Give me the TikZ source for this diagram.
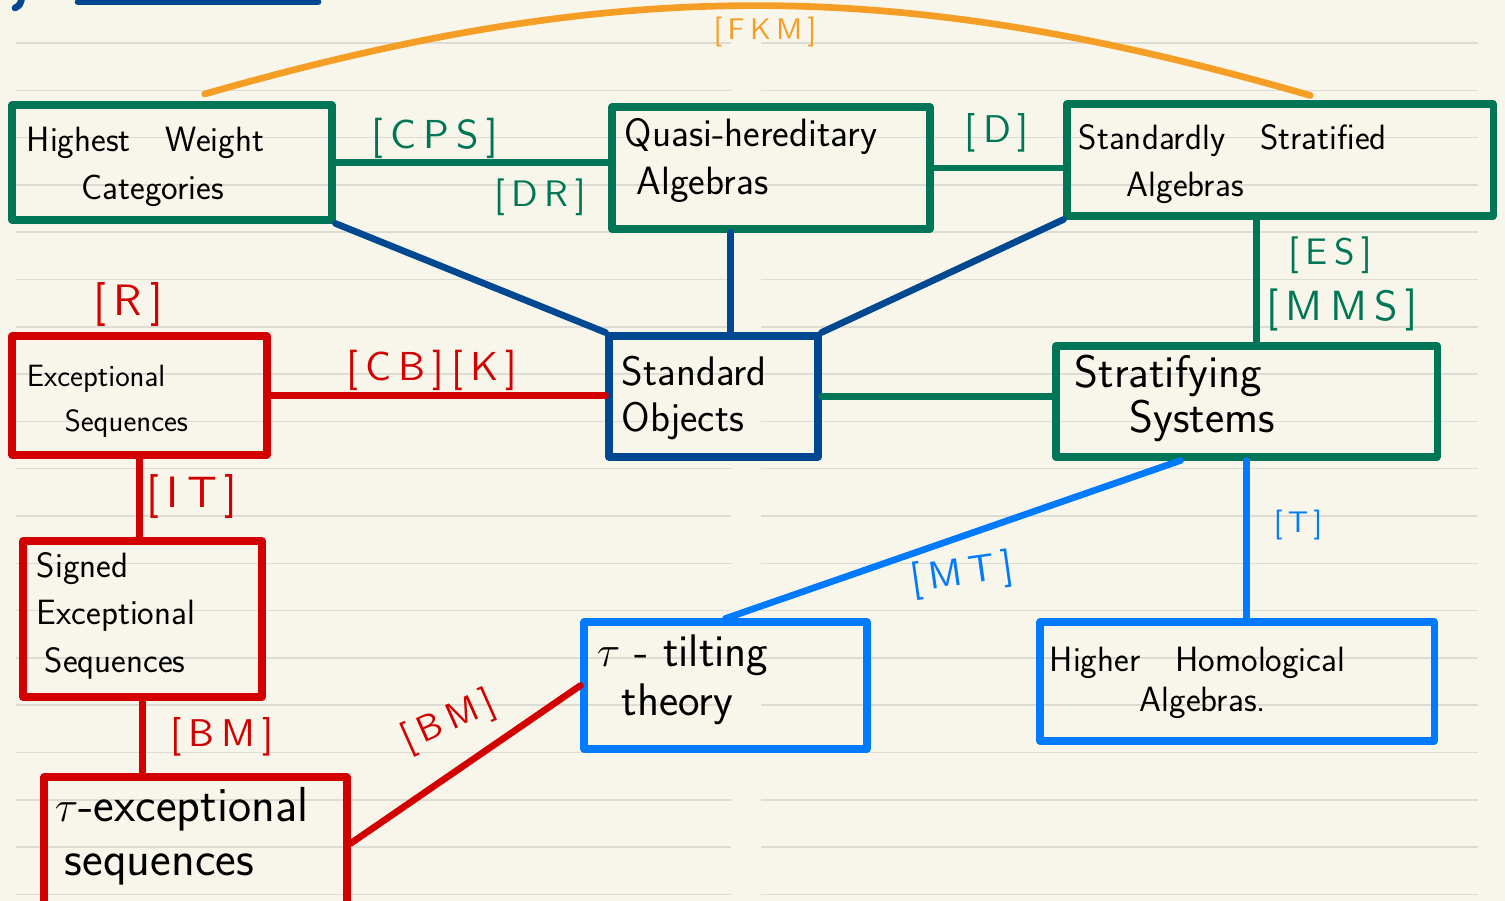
\documentclass[tikz,border=0pt]{standalone}
\usepackage{fontspec}
\usepackage{tikz}
\usetikzlibrary{calc, positioning}
\definecolor{PaperBg}{HTML}{F8F6EA}
\definecolor{RuleGray}{HTML}{DCDCD5}
\definecolor{HWGreen}{HTML}{007656}
\definecolor{ESRed}{HTML}{D20000}
\definecolor{SODarkBlue}{HTML}{004891}
\definecolor{TTBlue}{HTML}{007AFF}
\definecolor{FKMOrange}{HTML}{F59E25}
\newfontfamily\handlabel{lmsans10-regular.otf}[LetterSpace=18]
\tikzstyle{box} = [rectangle, draw, line width=4pt, line join=round]
\tikzstyle{boxtext} = [anchor=north west, inner sep=0pt, align=left,
font=\sffamily\fontsize{20}{27}\selectfont]
\tikzstyle{link} = [line width=3.8pt, line cap=round]
\tikzstyle{ref} = [inner sep=0pt, font=\handlabel\fontsize{23}{23}\selectfont]

\begin{document}
\begin{tikzpicture}
   % paper
   \path[use as bounding box] (0,0) rectangle (30.1,-18.02);
   \fill[PaperBg] (0,0) rectangle (30.1,-18.02);
   \clip (0,0) rectangle (30.1,-18.02);
   \foreach \k in {0,...,18} {
     \draw[RuleGray, line width=0.8pt] (0.32,{-0.86-0.946*\k}) -- (14.62,{-0.86-0.946*\k});
     \draw[RuleGray, line width=0.8pt] (15.22,{-0.86-0.946*\k}) -- (29.56,{-0.86-0.946*\k});
   }
   \draw[SODarkBlue, link] (1.56,-0.04) -- (6.36,-0.04);
   \draw[SODarkBlue, link] (0.3,-0.16) .. controls (0.4,-0.1) .. (0.44,0.05);

   % boxes
   \node[box,HWGreen,minimum width=6.4cm,minimum height=2.3cm] (highest) at (3.44,-3.25) {};
   \node[box,HWGreen,minimum width=6.36cm,minimum height=2.44cm] (quasi) at (15.42,-3.36) {};
   \node[box,HWGreen,minimum width=8.52cm,minimum height=2.24cm] (stdstrat) at (25.6,-3.2) {};
   \node[box,ESRed,minimum width=5.1cm,minimum height=2.38cm] (exceptional) at (2.79,-7.91) {};
   \node[box,SODarkBlue,minimum width=4.18cm,minimum height=2.42cm] (standard) at (14.27,-7.93) {};
   \node[box,HWGreen,minimum width=7.62cm,minimum height=2.22cm] (stratifying) at (24.93,-8.03) {};
   \node[box,ESRed,minimum width=4.78cm,minimum height=3.12cm] (signed) at (2.85,-12.38) {};
   \node[box,TTBlue,minimum width=5.66cm,minimum height=2.54cm] (tautilt) at (14.51,-13.71) {};
   \node[box,TTBlue,minimum width=7.88cm,minimum height=2.38cm] (higher) at (24.74,-13.63) {};
   \node[box,ESRed,minimum width=6.06cm,minimum height=2.66cm] (tauexc) at (3.91,-16.87) {};

   % box texts
   \node[boxtext] (highesttext) at ($(highest.north west)+(0.36,-0.51)$)
    {Highest\quad Weight\\\hspace*{1.1cm}Categories};
   \node[boxtext,font=\sffamily\fontsize{22.5}{27}\selectfont] (quasitext) at ($(quasi.north west)+(0.32,-0.3)$)
    {Quasi-hereditary\\\hspace*{0.24cm}Algebras};
   \node[boxtext] (stdstrattext) at ($(stdstrat.north west)+(0.3,-0.47)$)
    {Standardly\quad Stratified\\\hspace*{0.96cm}Algebras};
   \node[boxtext,font=\sffamily\fontsize{17.5}{25.5}\selectfont] (exceptionaltext) at ($(exceptional.north west)+(0.36,-0.65)$)
    {Exceptional\\\hspace*{0.76cm}Sequences};
   \node[boxtext,font=\sffamily\fontsize{23.5}{26.6}\selectfont] (standardtext) at ($(standard.north west)+(0.32,-0.46)$)
    {Standard\\Objects};
   \node[boxtext,font=\sffamily\fontsize{26}{26}\selectfont] (stratifyingtext) at ($(stratifying.north west)+(0.44,-0.24)$)
    {Stratifying\\\hspace*{1.1cm}Systems};
   \node[boxtext] (signedtext) at ($(signed.north west)+(0.34,-0.29)$)
    {Signed\\Exceptional\\\hspace*{0.16cm}Sequences};
   \node[boxtext,font=\sffamily\fontsize{26}{28}\selectfont] (tautilttext) at ($(tautilt.north west)+(0.32,-0.32)$)
    {$\tau$ - tilting\\\hspace*{0.5cm}theory};
   \node[boxtext,font=\sffamily\fontsize{20}{22.7}\selectfont] (highertext) at ($(higher.north west)+(0.26,-0.57)$)
    {Higher\quad Homological\\\hspace*{1.8cm}Algebras.};
   \node[boxtext,font=\sffamily\fontsize{28}{31}\selectfont] (tauexctext) at ($(tauexc.north west)+(0.28,-0.27)$)
    {$\tau$-exceptional\\\hspace*{0.2cm}sequences};

   % connectors
   \coordinate (fkmstart) at ($(highest.north west)!0.6!(highest.north east)+(0,0.15)$);
   \coordinate (fkmend) at ($(stdstrat.north west)!0.57!(stdstrat.north east)+(0,0.1)$);
   \draw[link,FKMOrange] (fkmstart) to[bend left=16] (fkmend);
   \draw[link,HWGreen] (highest.east) -- (highest.east -| quasi.west);
   \draw[link,HWGreen] (quasi.east) -- (quasi.east -| stdstrat.west);
   \draw[link,SODarkBlue] (highest.south east) -- (standard.north west);
   \coordinate (quasidown) at ($(standard.north west)!0.58!(standard.north east)$);
   \draw[link,SODarkBlue] (quasidown |- quasi.south) -- (quasidown);
   \draw[link,SODarkBlue] (stdstrat.south west) -- (standard.north east);
   \coordinate (stratup) at ($(stratifying.north)+(0.2,0)$);
   \draw[link,HWGreen] (stratup |- stdstrat.south) -- (stratup);
   \draw[link,HWGreen] (standard.east) -- (standard.east -| stratifying.west);
   \draw[link,ESRed] (exceptional.east) -- (exceptional.east -| standard.west);
   \draw[link,ESRed] (exceptional.south) -- (exceptional.south |- signed.north);
   \draw[link,ESRed] (signed.south) -- (signed.south |- tauexc.north);
   \draw[link,ESRed] (tauexc.east) -- (tautilt.west);
   \coordinate (stratleft) at ($(stratifying.south west)!0.33!(stratifying.south east)$);
   \draw[link,TTBlue] (stratleft) -- (tautilt.north);
   \draw[link,TTBlue] (stratifying.south) -- (stratifying.south |- higher.north);

   % references
   \node[ref,text=FKMOrange,font=\handlabel\fontsize{17}{17}\selectfont] (fkm) at (15.3,-0.64) {[FKM]};
   \node[ref,text=HWGreen] (cps) at (8.7,-2.76) {[CPS]};
   \node[ref,text=HWGreen,font=\handlabel\fontsize{21}{21}\selectfont] (dr) at (10.8,-3.94) {[DR]};
   \node[ref,text=HWGreen,font=\handlabel\fontsize{22}{22}\selectfont] (d) at (19.94,-2.66) {[D]};
   \node[ref,text=HWGreen,font=\handlabel\fontsize{21}{21}\selectfont] (es) at (26.6,-5.1) {[ES]};
   \node[ref,text=HWGreen,font=\handlabel\fontsize{24}{24}\selectfont] (mms) at (26.84,-6.2) {[MMS]};
   \node[ref,text=ESRed,font=\handlabel\fontsize{25}{25}\selectfont] (r) at (2.56,-6.1) {[R]};
   \node[ref,text=ESRed] (cbk) at (8.64,-7.4) {[CB][K]};
   \node[ref,text=ESRed,font=\handlabel\fontsize{25}{25}\selectfont] (it) at (3.84,-9.94) {[IT]};
   \node[ref,text=ESRed,font=\handlabel\fontsize{22}{22}\selectfont] (bmleft) at (4.44,-14.74) {[BM]};
   \node[ref,text=ESRed,font=\handlabel\fontsize{21}{21}\selectfont,rotate=24] (bmright) at (8.98,-14.44) {[BM]};
   \node[ref,text=TTBlue,font=\handlabel\fontsize{22}{22}\selectfont,rotate=8] (mt) at (19.24,-11.5) {[MT]};
   \node[ref,text=TTBlue,font=\handlabel\fontsize{17}{17}\selectfont] (t) at (25.96,-10.5) {[T]};
\end{tikzpicture}
\end{document}
